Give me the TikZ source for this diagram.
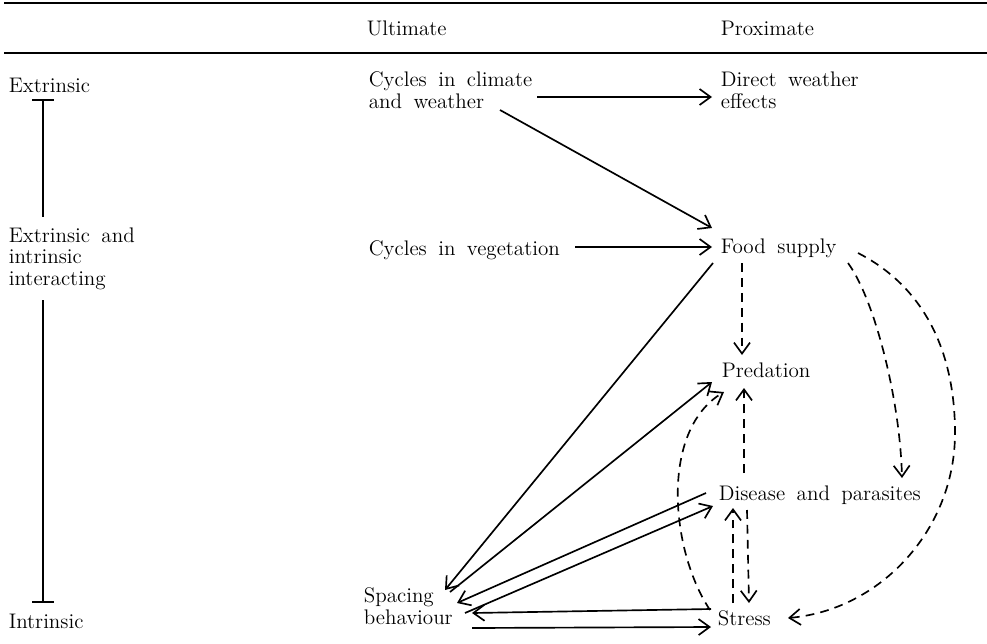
\documentclass[tikz,border=0pt]{standalone}
\usetikzlibrary{arrows.meta,calc}
\newcommand\lblfont{\fontsize{12}{12.2}\selectfont\spaceskip=6.5pt plus 1pt minus 1pt\relax}
\begin{document}
\begin{tikzpicture}[x=0.02cm,y=-0.02cm,
  line width=0.95pt,>={Straight Barb[length=2.2mm,width=3.2mm]},
  lbl/.style={anchor=base west,inner sep=0pt,align=left,font=\lblfont},
  dsh/.style={dash pattern=on 5pt off 3.5pt}]

  \useasboundingbox (0,0) rectangle (987,643);

  % table rules
  \draw[line width=1pt] (4,3) -- (987,3);
  \draw[line width=1pt] (4,53) -- (987,53);

  \node[lbl] (ult) at (366,35) {Ultimate};
  \node[lbl] (prox) at (720,35) {Proximate};

  % left scale
  \node[lbl] (ext) at (8,92) {Extrinsic};
  \node[lbl] (mix) at (8,285) {Extrinsic and\\intrinsic\\interacting};
  \node[lbl] (int) at (8,628) {Intrinsic};
  \draw[{Bar[width=4.4mm]}-] ($(ext.base west)+(35,7)$) -- ($(mix.base west)+(35,-68)$);
  \draw[-{Bar[width=4.4mm]}] ($(mix.base west)+(35,15)$) -- ($(int.base west)+(35,-25)$);

  % factors (base = last line)
  \node[lbl] (climate) at (368,108) {Cycles in climate\\and weather};
  \node[lbl] (weather) at (720,108) {Direct weather\\effects};
  \node[lbl] (veg) at (368,255) {Cycles in vegetation};
  \node[lbl] (food) at (720,253) {Food supply};
  \node[lbl] (pred) at (721,377) {Predation};
  \node[lbl] (disease) at (718,500) {Disease and parasites};
  \node[lbl] (stress) at (717,625) {Stress};
  \node[lbl] (spacing) at (363,624) {Spacing\\behaviour};

  % solid links
  \draw[->] ($(climate.base west)+(169,-11)$) -- ($(weather.base west)+(-8,-11)$);
  \draw[->] ($(climate.base west)+(132,2)$) -- ($(food.base west)+(-8,-25)$);
  \draw[->] ($(veg.base west)+(207,-8)$) -- ($(food.base west)+(-8,-6)$);
  \draw[->] ($(food.base west)+(-7,10)$) -- ($(spacing.base west)+(82,-34)$);
  \draw[->] ($(spacing.base west)+(87,-32)$) -- ($(pred.base west)+(-9,5)$);
  \draw[->] ($(disease.base west)+(-12,-7)$) -- ($(spacing.base west)+(94,-21)$);
  \draw[->] ($(spacing.base west)+(102,-11)$) -- ($(disease.base west)+(-5,6)$);
  \draw[->] ($(stress.base west)+(-6,-16)$) -- ($(spacing.base west)+(109,-11)$);
  \draw[->] ($(spacing.base west)+(109,4)$) -- ($(stress.base west)+(-6,2)$);

  % dashed links
  \draw[dsh,->] ($(food.base west)+(22,10)$) -- ($(pred.base west)+(21,-22)$);
  \draw[dsh,->] ($(disease.base west)+(26,-27)$) -- ($(pred.base west)+(23,11)$);
  \draw[dsh,->] ($(food.base west)+(128,10)$) .. controls (875,300) and (900,400) .. ($(disease.base west)+(184,-22)$);
  \draw[dsh,->] ($(food.base west)+(138,0)$) .. controls (930,290) and (955,360) .. (955,433)
    .. controls (955,530) and (880,610) .. ($(stress.base west)+(71,-7)$);
  \draw[dsh,->] ($(stress.base west)+(-7,-15)$) .. controls (670,550) and (660,430) .. ($(pred.base west)+(3,15)$);
  \draw[dsh,->] ($(stress.base west)+(16,-22)$) -- ($(disease.base west)+(15,8)$);
  \draw[dsh,->] ($(disease.base west)+(29,10)$) -- ($(stress.base west)+(32,-22)$);
\end{tikzpicture}
\end{document}
